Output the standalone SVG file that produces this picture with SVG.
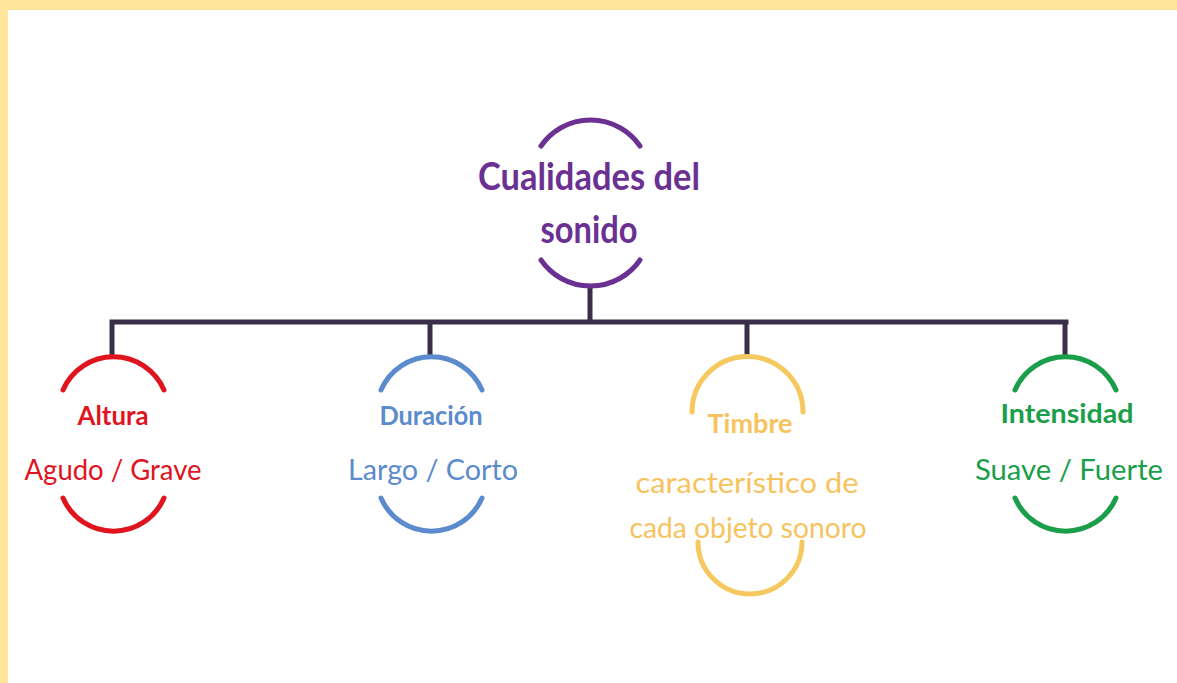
<svg xmlns="http://www.w3.org/2000/svg" width="1177" height="683" viewBox="0 0 1177 683">
<style>
.arc{fill:none;stroke-width:5;stroke-linecap:round}
.conn{fill:none;stroke:#3a2f48;stroke-width:5;stroke-linecap:square}
text{font-family:"Lato","DejaVu Sans",sans-serif;text-anchor:middle}
.t{font-weight:bold;font-size:26px}
.s{font-size:28px}
.c{font-size:38px;font-weight:bold}
</style>
<rect x="0" y="0" width="1177" height="683" fill="#ffffff"/>
<rect x="0" y="0" width="1177" height="10" fill="#ffe599"/>
<rect x="0" y="0" width="8" height="683" fill="#ffe599"/>
<g id="connectors">
<path class="conn" d="M590 290 V322 M112 322 H1066 M112 322 V355 M430 322 V355 M747 322 V355 M1065 322 V355"/>
</g>
<g id="center">
<path class="arc" stroke="#6a3192" d="M541 146 A60 60 0 0 1 640 146 M541 260 A60 60 0 0 0 640 260"/>
<text class="c" fill="#6a3192" x="589" y="190" textLength="222" lengthAdjust="spacingAndGlyphs">Cualidades del</text>
<text class="c" fill="#6a3192" x="589" y="243" textLength="97" lengthAdjust="spacingAndGlyphs">sonido</text>
</g>
<g id="altura">
<path class="arc" stroke="#e0141e" d="M63 390 A55 55 0 0 1 164 390 M63 498 A55 55 0 0 0 164 498"/>
<text class="t" fill="#e0141e" x="113" y="425" textLength="71" lengthAdjust="spacingAndGlyphs">Altura</text>
<text class="s" fill="#e0141e" x="113" y="480" textLength="177" lengthAdjust="spacingAndGlyphs">Agudo / Grave</text>
</g>
<g id="duracion">
<path class="arc" stroke="#5b8bcd" d="M381 390 A55 55 0 0 1 482 390 M381 498 A55 55 0 0 0 482 498"/>
<text class="t" fill="#5b8bcd" x="431" y="425" textLength="103" lengthAdjust="spacingAndGlyphs">Duración</text>
<text class="s" fill="#5b8bcd" x="433" y="480" textLength="170" lengthAdjust="spacingAndGlyphs">Largo / Corto</text>
</g>
<g id="timbre">
<path class="arc" stroke="#f6c860" d="M692 412 A55.5 55.5 0 0 1 803 412 M698 542 A52 52 0 0 0 802 542"/>
<text class="t" fill="#f6c35e" x="750" y="433" textLength="85" lengthAdjust="spacingAndGlyphs">Timbre</text>
<text class="s" fill="#f6c35e" x="747" y="493" textLength="223" lengthAdjust="spacingAndGlyphs">característico de</text>
<text class="s" fill="#f6c35e" x="748" y="538" textLength="237" lengthAdjust="spacingAndGlyphs">cada objeto sonoro</text>
</g>
<g id="intensidad">
<path class="arc" stroke="#1a9e4a" d="M1015 390 A55 55 0 0 1 1116 390 M1015 498 A55 55 0 0 0 1116 498"/>
<text class="t" fill="#1a9e4a" x="1067" y="423" textLength="133" lengthAdjust="spacingAndGlyphs">Intensidad</text>
<text class="s" fill="#1a9e4a" x="1069" y="480" textLength="188" lengthAdjust="spacingAndGlyphs">Suave / Fuerte</text>
</g>
</svg>
